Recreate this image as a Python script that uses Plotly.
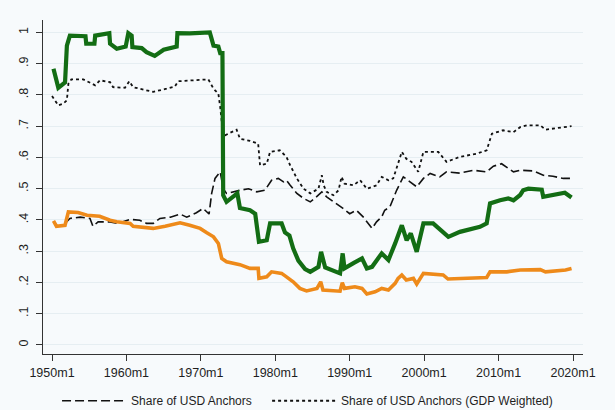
import plotly.graph_objects as go

# ---- data ----
green_x = [1950.2, 1950.6, 1950.85, 1951.75, 1952.0, 1952.4, 1954.5, 1954.6, 1955.7, 1955.8,
           1957.7, 1957.8, 1958.0, 1958.7, 1959.9, 1960.25, 1960.7, 1960.8, 1962.05, 1962.7,
           1963.8, 1965.0, 1966.75, 1966.85, 1968.5, 1971.2, 1971.7, 1972.35, 1972.6, 1972.9,
           1973.0, 1973.45, 1974.9, 1975.25, 1976.6, 1977.3, 1977.8, 1978.85, 1979.3, 1980.85,
           1981.3, 1981.9, 1982.4, 1983.1, 1984.0, 1984.7, 1985.8, 1986.15, 1986.7, 1988.7,
           1989.05, 1989.3, 1990.5, 1991.65, 1992.3, 1993.0, 1994.3, 1995.2, 1996.1, 1997.0,
           1997.65, 1998.2, 1999.0, 1999.9, 2001.2, 2002.35, 2003.25, 2004.8, 2007.5, 2008.4,
           2008.85, 2010.2, 2011.3, 2012.0, 2012.9, 2013.3, 2014.0, 2015.8, 2016.0, 2018.9,
           2019.8]
green_y = [0.884, 0.837, 0.823, 0.84, 0.958, 0.99, 0.988, 0.964, 0.964, 0.99,
           0.998, 0.964, 0.96, 0.948, 0.955, 0.998, 0.99, 0.953, 0.95, 0.937,
           0.925, 0.945, 0.955, 0.998, 0.997, 1.0, 0.958, 0.955, 0.934, 0.934,
           0.479, 0.458, 0.485, 0.438, 0.431, 0.42, 0.33, 0.335, 0.389, 0.389,
           0.36, 0.35, 0.309, 0.27, 0.243, 0.234, 0.25, 0.298, 0.248, 0.229,
           0.293, 0.245, 0.262, 0.277, 0.245, 0.25, 0.293, 0.272, 0.325, 0.383,
           0.335, 0.357, 0.298, 0.389, 0.389, 0.367, 0.346, 0.362, 0.378, 0.389,
           0.453, 0.463, 0.469, 0.463, 0.48, 0.495, 0.5, 0.497, 0.474, 0.487,
           0.472]

orange_x = [1950.2, 1950.6, 1951.75, 1952.2, 1953.5, 1954.7, 1956.4, 1957.8, 1958.7, 1960.5,
            1960.9, 1963.6, 1965.2, 1967.2, 1968.5, 1969.9, 1970.8, 1971.7, 1972.35, 1972.8,
            1973.45, 1974.8, 1975.25, 1976.6, 1977.7, 1977.8, 1978.85, 1979.5, 1980.85, 1981.5,
            1982.4, 1983.3, 1984.2, 1985.6, 1986.1, 1986.4, 1988.7, 1989.0, 1989.3, 1990.7,
            1991.65, 1992.3, 1993.4, 1994.3, 1995.2, 1996.1, 1996.5, 1997.0, 1997.6, 1998.55,
            1999.0, 1999.9, 2002.55, 2003.2, 2008.4, 2008.85, 2011.1, 2012.9, 2015.6, 2016.3,
            2019.0, 2019.8]
orange_y = [0.397, 0.38, 0.383, 0.426, 0.424, 0.415, 0.412, 0.399, 0.394, 0.389,
            0.38, 0.373, 0.38, 0.391, 0.383, 0.373, 0.359, 0.346, 0.325, 0.277,
            0.266, 0.261, 0.257, 0.245, 0.245, 0.213, 0.218, 0.234, 0.229, 0.218,
            0.202, 0.181, 0.173, 0.181, 0.202, 0.176, 0.172, 0.199, 0.181, 0.186,
            0.181, 0.163, 0.17, 0.181, 0.176, 0.197, 0.213, 0.224, 0.208, 0.213,
            0.195, 0.229, 0.224, 0.211, 0.216, 0.234, 0.234, 0.24, 0.241, 0.234,
            0.24, 0.245]

usd_x = [1951.75, 1952.4, 1953.8, 1955.1, 1955.5, 1956.2, 1957.8, 1958.9, 1960.5, 1961.8,
         1962.7, 1963.6, 1964.5, 1965.9, 1967.2, 1968.1, 1969.4, 1970.3, 1971.1, 1971.45,
         1971.9, 1972.6, 1973.0, 1973.45, 1975.25, 1976.4, 1977.5, 1978.6, 1979.5, 1980.4,
         1981.1, 1981.5, 1982.0, 1982.9, 1983.8, 1984.7, 1985.3, 1986.25, 1986.9, 1988.2,
         1989.1, 1990.0, 1990.9, 1991.8, 1993.0, 1993.6, 1994.3, 1994.7, 1995.4, 1996.3,
         1997.2, 1998.1, 1999.0, 1999.9, 2000.8, 2002.1, 2003.0, 2004.8, 2006.6, 2008.4,
         2009.3, 2010.4, 2012.0, 2012.9, 2014.7, 2016.0, 2017.3, 2018.7, 2019.8]
usd_y = [0.389, 0.405, 0.409, 0.405, 0.38, 0.394, 0.394, 0.389, 0.402, 0.399,
         0.389, 0.389, 0.405, 0.409, 0.419, 0.409, 0.423, 0.437, 0.419, 0.485,
         0.533, 0.554, 0.5, 0.485, 0.495, 0.5, 0.49, 0.495, 0.527, 0.533,
         0.522, 0.527, 0.511, 0.485, 0.469, 0.458, 0.469, 0.49, 0.474, 0.453,
         0.437, 0.42, 0.431, 0.41, 0.373, 0.394, 0.41, 0.431, 0.442, 0.495,
         0.538, 0.522, 0.506, 0.533, 0.549, 0.538, 0.554, 0.55, 0.559, 0.554,
         0.572, 0.58, 0.554, 0.559, 0.557, 0.543, 0.54, 0.533, 0.533]

gdp_x = [1950.0, 1950.4, 1950.85, 1951.5, 1952.0, 1952.2, 1952.6, 1954.2, 1954.9, 1955.8,
         1956.45, 1957.8, 1958.2, 1959.8, 1960.4, 1960.9, 1962.3, 1963.6, 1965.4, 1966.5,
         1966.95, 1969.0, 1971.0, 1971.7, 1972.35, 1972.6, 1972.95, 1973.25, 1973.9, 1974.8,
         1975.25, 1976.6, 1977.7, 1977.95, 1978.85, 1979.3, 1980.6, 1981.5, 1982.0, 1982.9,
         1983.8, 1984.7, 1985.8, 1986.25, 1986.5, 1986.9, 1987.8, 1988.5, 1988.9, 1989.3,
         1990.5, 1991.4, 1992.3, 1993.6, 1994.3, 1995.2, 1995.85, 1996.5, 1997.0, 1997.6,
         1998.3, 1999.2, 1999.9, 2001.9, 2003.0, 2004.8, 2007.05, 2008.4, 2009.1, 2010.6,
         2012.0, 2012.9, 2013.8, 2015.6, 2016.3, 2017.8, 2019.8]
gdp_y = [0.797, 0.783, 0.767, 0.772, 0.783, 0.836, 0.85, 0.85, 0.841, 0.831,
         0.847, 0.841, 0.825, 0.823, 0.844, 0.825, 0.817, 0.81, 0.82, 0.827,
         0.844, 0.847, 0.85, 0.82, 0.804, 0.761, 0.681, 0.671, 0.678, 0.689,
         0.66, 0.653, 0.644, 0.575, 0.58, 0.618, 0.623, 0.602, 0.575, 0.533,
         0.5, 0.485, 0.5, 0.543, 0.511, 0.49, 0.479, 0.495, 0.538, 0.516,
         0.511, 0.527, 0.5, 0.511, 0.538, 0.527, 0.533, 0.58, 0.618, 0.596,
         0.586, 0.554, 0.618, 0.618, 0.586, 0.602, 0.612, 0.623, 0.676, 0.687,
         0.681, 0.697, 0.703, 0.703, 0.689, 0.694, 0.7]

x_tick_vals = [1950, 1960, 1970, 1980, 1990, 2000, 2010, 2020]
x_tick_text = ["1950m1", "1960m1", "1970m1", "1980m1", "1990m1", "2000m1", "2010m1", "2020m1"]
y_tick_vals = [0, 0.1, 0.2, 0.3, 0.4, 0.5, 0.6, 0.7, 0.8, 0.9, 1.0]
y_tick_text = ["0", ".1", ".2", ".3", ".4", ".5", ".6", ".7", ".8", ".9", "1"]

legend_names = ["Share of USD Anchors", "Share of USD Anchors (GDP Weighted)"]

# ---- figure ----
fig = go.Figure()
fig.add_trace(go.Scatter(x=usd_x, y=usd_y, mode="lines", name=legend_names[0], legend="legend",
                         line=dict(color="#111111", width=1.6, dash="9px,4px")))
fig.add_trace(go.Scatter(x=gdp_x, y=gdp_y, mode="lines", name=legend_names[1], legend="legend2",
                         line=dict(color="#111111", width=1.8, dash="3px,3px")))
fig.add_trace(go.Scatter(x=orange_x, y=orange_y, mode="lines", showlegend=False,
                         line=dict(color="#ee8a1a", width=3.6)))
fig.add_trace(go.Scatter(x=green_x, y=green_y, mode="lines", showlegend=False,
                         line=dict(color="#136d14", width=4.2)))

bg = "#f7fafc"
leg_common = dict(orientation="h", xanchor="left", y=-0.14, yanchor="middle",
                  bgcolor="rgba(0,0,0,0)", itemwidth=64, font=dict(size=12))
fig.update_layout(
    width=615, height=410,
    paper_bgcolor=bg, plot_bgcolor=bg,
    margin=dict(l=43, r=32, t=20, b=56, autoexpand=False),
    font=dict(family="Liberation Sans, Arial, sans-serif", size=12, color="#1e1e1e"),
    showlegend=True,
    legend=dict(x=0.026, **leg_common),
    legend2=dict(x=0.415, **leg_common),
    xaxis=dict(range=[1948.79, 2021.34], tickvals=x_tick_vals, ticktext=x_tick_text,
               showgrid=False, zeroline=False, showline=True, linecolor="#333333",
               linewidth=1.2, ticks="outside", ticklen=6, tickcolor="#333333",
               ticklabelstandoff=1, tickfont=dict(size=12.5)),
    yaxis=dict(range=[-0.029, 1.04], tickvals=y_tick_vals, ticktext=y_tick_text,
               tickangle=-90, showgrid=True, gridcolor="#e6eef2", gridwidth=1,
               zeroline=False, showline=True, linecolor="#333333", linewidth=1.2,
               ticks="outside", ticklen=6, tickcolor="#333333",
               ticklabelstandoff=3, tickfont=dict(size=12.5)),
)

fig.write_html("out.html", config={"displayModeBar": False},
               post_script="document.body.style.margin='0';document.body.style.background='%s';" % bg)
